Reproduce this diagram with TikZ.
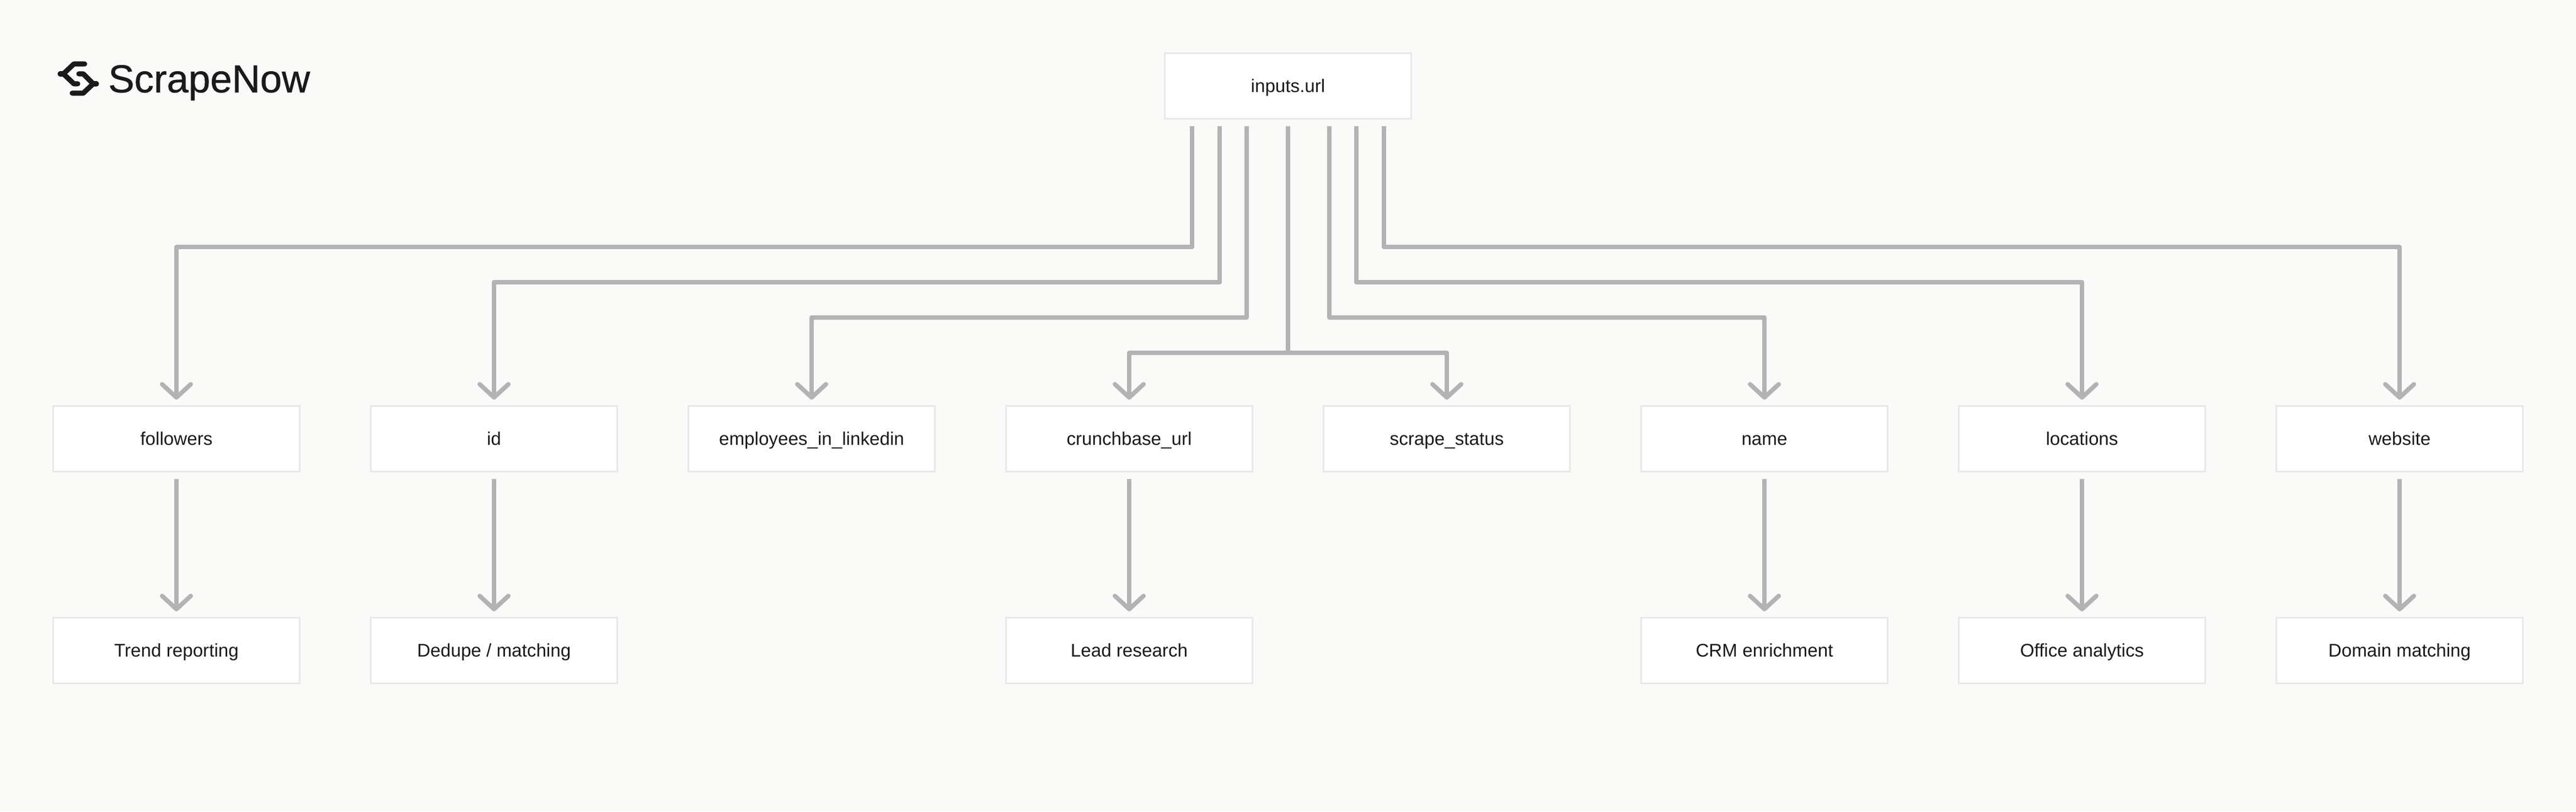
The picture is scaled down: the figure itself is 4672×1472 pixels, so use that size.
\documentclass[tikz,border=0pt]{standalone}
\usepackage{fontspec}
\usepackage{xcolor}
\usetikzlibrary{arrows.meta, positioning}
\setmainfont{Liberation Sans}
\newfontfamily\logofont[FakeBold=0.7]{Liberation Sans}
\definecolor{pagebg}{HTML}{FAFAF8}
\definecolor{boxline}{HTML}{E8E8E8}
\definecolor{linkgray}{HTML}{B3B3B3}
\definecolor{inkblack}{HTML}{1A1A1A}

\begin{document}
\begin{tikzpicture}[x=0.5pt, y=-0.5pt, node distance=288pt,
        block/.style={rectangle, draw=boxline, line width=1.5pt, fill=white, text=inkblack, font=\fontsize{16.6pt}{20pt}\selectfont, minimum width=223.5pt, minimum height=59.5pt, inner sep=0pt, text height=14pt, text depth=3pt},
        line/.style={draw=linkgray, line width=4pt, line join=round, shorten <=6pt, shorten >=5pt, -{Straight Barb[length=12pt, width=26pt, line width=4pt, round]}},
        logomark/.style={draw=inkblack, line width=4.6pt, line join=round, line cap=round}]

        % Page
        \fill [pagebg] (0,0) rectangle (4672,1472);

        % Logo
        \draw [logomark] (153.5,116) -- (134,116) -- (115,134) -- (134,152) -- (141,152);
        \draw [logomark] (109,134) -- (115,134);
        \draw [logomark] (143,134) -- (151,134) -- (169,152) -- (151,169) -- (131,169);
        \draw [logomark] (169,152) -- (175,152);
        \node [anchor=base west, inner sep=0pt, text=inkblack, font=\logofont\fontsize{35.4pt}{40pt}\selectfont] (logo) at (196,167.5) {ScrapeNow};

        % Source
        \node [block] (inputs) at (2336,156) {inputs.url};

        % Fields
        \node [block] (followers) at (320,796) {followers};
        \node [block, right of=followers] (id) {id};
        \node [block, right of=id] (employees) {employees\_in\_linkedin};
        \node [block, right of=employees] (crunchbase) {crunchbase\_url};
        \node [block, right of=crunchbase] (status) {scrape\_status};
        \node [block, right of=status] (name) {name};
        \node [block, right of=name] (locations) {locations};
        \node [block, right of=locations] (website) {website};

        % Uses
        \node [block, below of=followers, node distance=192pt] (trend) {Trend reporting};
        \node [block, below of=id, node distance=192pt] (dedupe) {Dedupe / matching};
        \node [block, below of=crunchbase, node distance=192pt] (lead) {Lead research};
        \node [block, below of=name, node distance=192pt] (crm) {CRM enrichment};
        \node [block, below of=locations, node distance=192pt] (office) {Office analytics};
        \node [block, below of=website, node distance=192pt] (domain) {Domain matching};

        % Connections
        \path [line] ([xshift=-87pt]inputs.south) -- ++(0,231) -| (followers.north);
        \path [line] ([xshift=-62pt]inputs.south) -- ++(0,295) -| (id.north);
        \path [line] ([xshift=-37.5pt]inputs.south) -- ++(0,359) -| (employees.north);
        \path [line] (inputs.south) -- ++(0,423) -| (crunchbase.north);
        \path [line] (inputs.south) -- ++(0,423) -| (status.north);
        \path [line] ([xshift=37.5pt]inputs.south) -- ++(0,359) -| (name.north);
        \path [line] ([xshift=62pt]inputs.south) -- ++(0,295) -| (locations.north);
        \path [line] ([xshift=87pt]inputs.south) -- ++(0,231) -| (website.north);

        \path [line] (followers) -- (trend);
        \path [line] (id) -- (dedupe);
        \path [line] (crunchbase) -- (lead);
        \path [line] (name) -- (crm);
        \path [line] (locations) -- (office);
        \path [line] (website) -- (domain);

    \end{tikzpicture}
\end{document}
